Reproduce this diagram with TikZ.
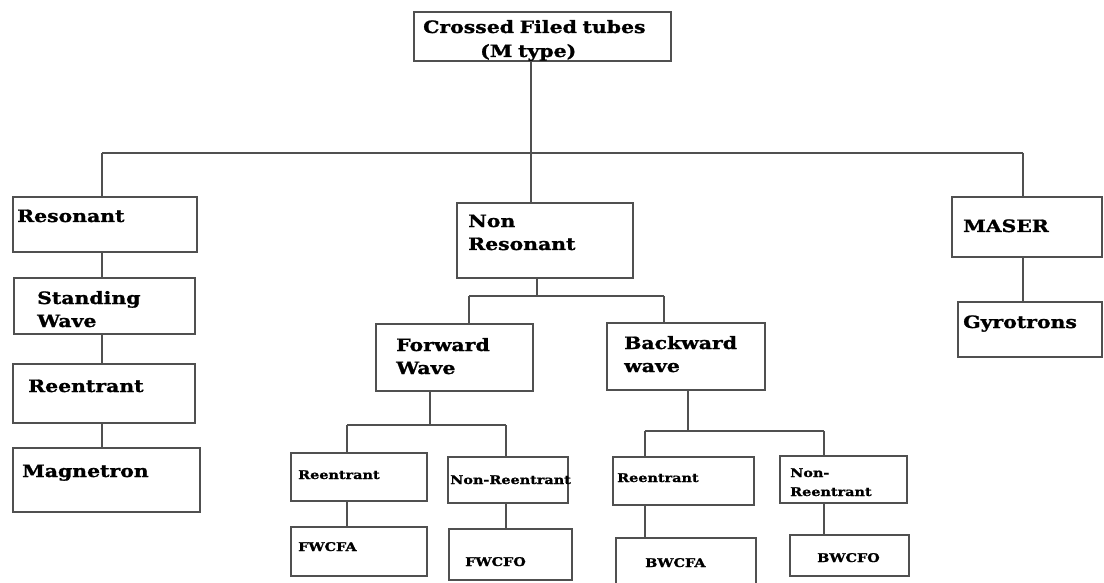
\documentclass[tikz,border=0pt]{standalone}
\usepackage{fontspec}
\newfontfamily\dfont[FakeStretch=1.2,BoldFeatures={FakeBold=1.2}]{DejaVu Serif}
\definecolor{lnc}{HTML}{505050}
\tikzset{
  box/.style={draw=lnc, line width=1.4pt, inner sep=0pt, outer sep=0pt, anchor=north west},
  big/.style={anchor=base west, inner sep=0pt, text width=300pt, align=left,
    font=\dfont\bfseries\fontsize{17}{23}\selectfont},
  small/.style={anchor=base west, inner sep=0pt, text width=150pt, align=left,
    font=\dfont\bfseries\fontsize{12}{19}\selectfont},
  conn/.style={draw=lnc, line width=1.4pt}
}
\begin{document}
\begin{tikzpicture}[x=1pt,y=-1pt]
\useasboundingbox (0,0) rectangle (1104,583);
% boxes
\node[box, minimum width=257pt, minimum height=49pt] (top) at (414,12) {};
\node[box, minimum width=184pt, minimum height=55pt] (res) at (13,197) {};
\node[box, minimum width=181pt, minimum height=56pt] (std) at (14,278) {};
\node[box, minimum width=182pt, minimum height=59pt] (ree) at (13,364) {};
\node[box, minimum width=187pt, minimum height=64pt] (mag) at (13,448) {};
\node[box, minimum width=176pt, minimum height=75pt] (nonr) at (457,203) {};
\node[box, minimum width=157pt, minimum height=67pt] (fw) at (376,324) {};
\node[box, minimum width=158pt, minimum height=67pt] (bw) at (607,323) {};
\node[box, minimum width=136pt, minimum height=48pt] (fwre) at (291,453) {};
\node[box, minimum width=120pt, minimum height=46pt] (fwnr) at (448,457) {};
\node[box, minimum width=136pt, minimum height=49pt] (fwcfa) at (291,527) {};
\node[box, minimum width=123pt, minimum height=51pt] (fwcfo) at (449,529) {};
\node[box, minimum width=141pt, minimum height=48pt] (bwre) at (613,457) {};
\node[box, minimum width=127pt, minimum height=47pt] (bwnr) at (780,456) {};
\node[box, minimum width=140pt, minimum height=52pt] (bwcfa) at (616,538) {};
\node[box, minimum width=119pt, minimum height=41pt] (bwcfo) at (790,535) {};
\node[box, minimum width=150pt, minimum height=60pt] (maser) at (952,197) {};
\node[box, minimum width=144pt, minimum height=55pt] (gyro) at (958,302) {};
% texts
\node[big] (ttop) at (423,33) {Crossed Filed tubes};
\node[big] (ttop2) at (480,57) {(M type)};
\node[big] (tres) at (17,222) {Resonant};
\node[big] (tstd) at (37,304) {Standing\\Wave};
\node[big] (tree) at (28,392) {Reentrant};
\node[big] (tmag) at (22,477) {Magnetron};
\node[big] (tnonr) at (468,227) {Non\\Resonant};
\node[big] (tfw) at (396,351) {Forward\\Wave};
\node[big] (tbw) at (624,349) {Backward\\wave};
\node[big] (tmaser) at (963,232) {MASER};
\node[big] (tgyro) at (963,328) {Gyrotrons};
\node[small] (tfwre) at (298,479) {Reentrant};
\node[small] (tfwnr) at (450,484) {Non-Reentrant};
\node[small] (tfwcfa) at (298,551) {FWCFA};
\node[small] (tfwcfo) at (465,566) {FWCFO};
\node[small] (tbwre) at (617,482) {Reentrant};
\node[small] (tbwnr) at (790,477) {Non-\\Reentrant};
\node[small] (tbwcfa) at (645,567) {BWCFA};
\node[small] (tbwcfo) at (817,562) {BWCFO};
% junction coordinates
\coordinate (j0) at (531,153);
\coordinate (jl) at (102,153);
\coordinate (jr) at (1023,153);
\coordinate (j1) at (537,296);
\coordinate (j1l) at (469,296);
\coordinate (j1r) at (664,296);
\coordinate (j2) at (430,425);
\coordinate (j2l) at (347,425);
\coordinate (j2r) at (506,425);
\coordinate (j3) at (688,431);
\coordinate (j3l) at (645,431);
\coordinate (j3r) at (824,431);
% connectors
\draw[conn] (top.south -| j0) -- (j0);
\draw[conn] (jl) -- (jr);
\draw[conn] (jl) -- (res.north -| jl);
\draw[conn] (j0) -- (nonr.north -| j0);
\draw[conn] (jr) -- (maser.north -| jr);
\draw[conn] (res.south -| jl) -- (std.north -| jl);
\draw[conn] (std.south -| jl) -- (ree.north -| jl);
\draw[conn] (ree.south -| jl) -- (mag.north -| jl);
\draw[conn] (maser.south -| jr) -- (gyro.north -| jr);
\draw[conn] (nonr.south -| j1) -- (j1);
\draw[conn] (j1l) -- (j1r);
\draw[conn] (j1l) -- (fw.north -| j1l);
\draw[conn] (j1r) -- (bw.north -| j1r);
\draw[conn] (fw.south -| j2) -- (j2);
\draw[conn] (j2l) -- (j2r);
\draw[conn] (j2l) -- (fwre.north -| j2l);
\draw[conn] (j2r) -- (fwnr.north -| j2r);
\draw[conn] (fwre.south -| j2l) -- (fwcfa.north -| j2l);
\draw[conn] (fwnr.south -| j2r) -- (fwcfo.north -| j2r);
\draw[conn] (bw.south -| j3) -- (j3);
\draw[conn] (j3l) -- (j3r);
\draw[conn] (j3l) -- (bwre.north -| j3l);
\draw[conn] (j3r) -- (bwnr.north -| j3r);
\draw[conn] (bwre.south -| j3l) -- (bwcfa.north -| j3l);
\draw[conn] (bwnr.south -| j3r) -- (bwcfo.north -| j3r);
\end{tikzpicture}
\end{document}
